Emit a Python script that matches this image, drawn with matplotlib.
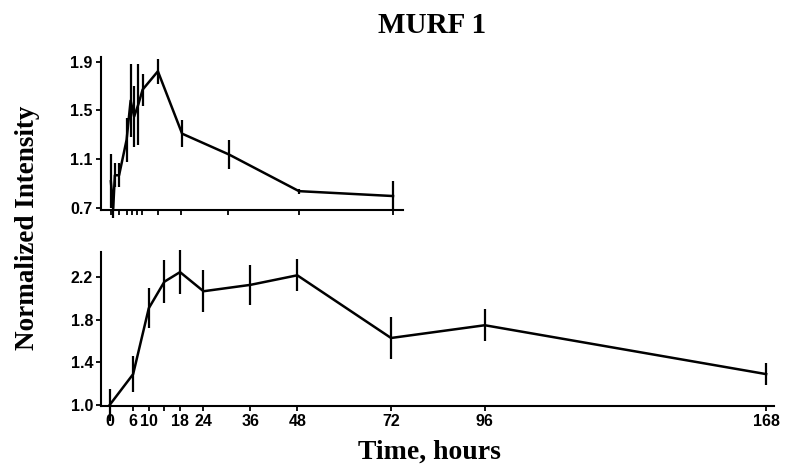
import numpy as np
import matplotlib
matplotlib.use("Agg")
import matplotlib.pyplot as plt

# top panel (early time course, unlabeled x axis)
top_t = [0, 0.1, 0.17, 0.35, 0.67, 0.84, 0.99, 1.17, 1.35, 2.0, 3.03, 5.02, 8.0, 12.0]
top_y = [0.92, 0.70, 0.97, 0.97, 1.26, 1.58, 1.45, 1.55, 1.67, 1.82, 1.31, 1.14, 0.84, 0.80]
top_err = [0.22, 0.08, 0.10, 0.10, 0.18, 0.30, 0.25, 0.33, 0.13, 0.10, 0.11, 0.12, 0.02, 0.12]
top_ticks = [0, 0.35, 0.67, 0.92, 1.13, 1.32, 2, 3, 5, 8, 12]
top_yticks = [0.7, 1.1, 1.5, 1.9]

# bottom panel
bot_t = [0, 6, 10, 14, 18, 24, 36, 48, 72, 96, 168]
bot_y = [1.00, 1.29, 1.91, 2.16, 2.25, 2.07, 2.13, 2.22, 1.63, 1.75, 1.29]
bot_err = [0.15, 0.17, 0.19, 0.20, 0.21, 0.20, 0.19, 0.15, 0.20, 0.15, 0.10]
bot_ticks = [0, 6, 10, 14, 18, 24, 36, 48, 72, 96, 168]
bot_ticklabels = ["0", "6", "10", "", "18", "24", "36", "48", "72", "96", "168"]
bot_yticks = [1.0, 1.4, 1.8, 2.2]

plt.rcParams['font.family'] = ['Liberation Sans Narrow', 'Liberation Sans']
plt.rcParams['font.weight'] = 'bold'

fig = plt.figure(figsize=(7.88, 4.74), dpi=100)

def style(ax):
    for s in ['top', 'right']:
        ax.spines[s].set_visible(False)
    for s in ['left', 'bottom']:
        ax.spines[s].set_linewidth(1.5)
    ax.tick_params(width=1.3, length=3.5, labelsize=11.5, pad=2.5)
    for lab in ax.get_xticklabels() + ax.get_yticklabels():
        lab.set_fontweight('bold')

ax1 = fig.add_axes([0.128, 0.557, 0.383, 0.322])
ax1.errorbar(top_t, top_y, yerr=top_err, fmt='-', color='black', lw=1.8,
             elinewidth=1.6, capsize=0, clip_on=False)
ax1.set_xlim(-0.425, 12.41)
ax1.set_ylim(0.686, 1.934)
ax1.set_xticks(top_ticks)
ax1.set_xticklabels([])
ax1.set_yticks(top_yticks)
ax1.set_yticklabels(["0.7", "1.1", "1.5", "1.9"])
style(ax1)

ax2 = fig.add_axes([0.1288, 0.1435, 0.8534, 0.325])
ax2.errorbar(bot_t, bot_y, yerr=bot_err, fmt='-', color='black', lw=1.8,
             elinewidth=1.6, capsize=0, clip_on=False)
ax2.set_xlim(-2.1, 170.0)
ax2.set_ylim(0.99, 2.44)
ax2.set_xticks(bot_ticks)
ax2.set_xticklabels(bot_ticklabels)
ax2.set_yticks(bot_yticks)
ax2.set_yticklabels(["1.0", "1.4", "1.8", "2.2"])
style(ax2)

fig.text(0.548, 0.947, "MURF 1", ha='center', va='center', fontsize=21,
         fontweight='bold', family='Liberation Serif')
fig.text(0.545, 0.047, "Time, hours", ha='center', va='center', fontsize=20,
         fontweight='bold', family='Liberation Serif')
fig.text(0.035, 0.52, "Normalized Intensity", ha='center', va='center', fontsize=19.5,
         fontweight='bold', family='Liberation Serif', rotation=90)

fig.savefig("out.png", dpi=100)
